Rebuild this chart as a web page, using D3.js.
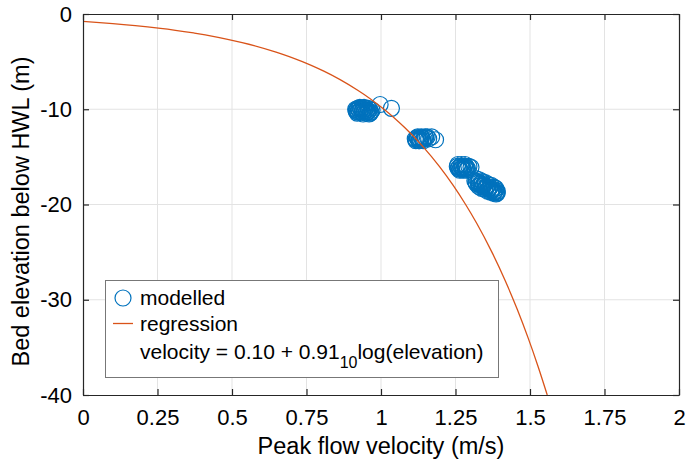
<!DOCTYPE html>
<html>
<head>
<meta charset="utf-8">
<script src="https://cdn.jsdelivr.net/npm/d3@7"></script>
<style>
  body { margin: 0; background: #fff; }
  svg { font-family: "Liberation Sans", Arial, sans-serif; }
</style>
</head>
<body>
<div id="chart"></div>
<script>
/**
 * CONSTANTS AND GLOBALS
 * */
const width = 686,
  height = 462,
  margin = { top: 14, bottom: 67, left: 83, right: 7 };

// modelled points (velocity m/s, elevation m)
const modelledVelocity = [
  // ~ -10 m
  0.915, 0.918, 0.922, 0.925, 0.928, 0.932, 0.935, 0.938, 0.942, 0.945, 0.948, 0.952, 0.955, 0.958, 0.962, 0.966, 0.97,
  0.917, 0.923, 0.929, 0.936, 0.943, 0.95, 0.957, 0.964, 0.92, 0.94, 0.96, 0.997, 1.035,
  // ~ -13 m
  1.115, 1.118, 1.121, 1.124, 1.127, 1.13, 1.133, 1.136, 1.14, 1.145, 1.15, 1.155, 1.16, 1.17, 1.183,
  1.117, 1.123, 1.129, 1.135, 1.142, 1.148,
  // ~ -16 m
  1.256, 1.259, 1.262, 1.265, 1.268, 1.271, 1.274, 1.277, 1.28, 1.283, 1.286, 1.29, 1.295, 1.302,
  1.258, 1.264, 1.27, 1.276, 1.282, 1.288,
  // ~ -17.3 to -18.9 m
  1.32, 1.33, 1.34, 1.35, 1.36, 1.37, 1.38, 1.385,
  1.315, 1.325, 1.335, 1.345, 1.355, 1.365, 1.375, 1.385, 1.39,
  1.32, 1.33, 1.34, 1.35, 1.36, 1.37, 1.38, 1.39,
  1.328, 1.338, 1.348, 1.358, 1.368, 1.378, 1.386,
  1.318, 1.327, 1.336, 1.345, 1.354, 1.363, 1.372, 1.381, 1.388
];
const modelledElevation = [
  -10.0, -10.1, -9.9, -10.0, -10.2, -10.0, -9.9, -10.1, -10.0, -10.2, -9.9, -10.1, -10.3, -10.2, -10.0, -10.3, -10.1,
  -10.2, -10.3, -9.8, -10.3, -9.8, -10.4, -9.9, -10.4, -10.4, -10.5, -10.5, -9.5, -9.9,
  -13.1, -13.2, -13.0, -13.1, -13.3, -13.1, -13.2, -13.0, -13.2, -13.1, -13.0, -12.9, -13.1, -12.9, -13.2,
  -13.3, -12.9, -13.3, -12.9, -13.3, -12.9,
  -16.0, -16.2, -16.1, -16.3, -16.0, -16.2, -16.1, -16.3, -16.0, -16.2, -16.1, -16.2, -16.0, -16.1,
  -15.8, -16.4, -15.8, -16.4, -15.8, -16.4,
  -17.3, -17.4, -17.6, -17.7, -17.9, -18.0, -18.2, -18.3,
  -17.5, -17.6, -17.8, -17.9, -18.1, -18.2, -18.4, -18.5, -18.6,
  -17.8, -17.9, -18.1, -18.2, -18.4, -18.5, -18.7, -18.8,
  -18.1, -18.3, -18.4, -18.6, -18.7, -18.8, -18.9,
  -17.65, -17.75, -17.95, -18.05, -18.25, -18.35, -18.55, -18.65, -18.75
];

// regression: velocity = a + b * log10(depth)
const regIntercept = 0.10;
const regSlope = 0.91;
const regDepths = [0.776, 1, 1.5, 2, 3, 4, 5, 6, 8, 10, 12, 14, 16, 18, 20, 22, 25, 28, 31, 34, 37, 40];

const xTicks = [0, 0.25, 0.5, 0.75, 1, 1.25, 1.5, 1.75, 2];
const xTickLabels = ["0", "0.25", "0.5", "0.75", "1", "1.25", "1.5", "1.75", "2"];
const yTicks = [0, -10, -20, -30, -40];
const yTickLabels = ["0", "-10", "-20", "-30", "-40"];

const blue = "#0072BD",
  orange = "#D95319";

/**
 * DRAW
 * */
const svg = d3.select("#chart")
  .append("svg")
  .attr("width", width)
  .attr("height", height);

const x = d3.scaleLinear().domain([0, 2]).range([margin.left, width - margin.right]);
const y = d3.scaleLinear().domain([-40, 0]).range([height - margin.bottom, margin.top]);

// grid
svg.append("g")
  .selectAll("line")
  .data(xTicks.slice(1, -1))
  .join("line")
  .attr("x1", d => x(d)).attr("x2", d => x(d))
  .attr("y1", y(0)).attr("y2", y(-40))
  .attr("stroke", "#e3e3e3").attr("stroke-width", 1);
svg.append("g")
  .selectAll("line")
  .data(yTicks.slice(1, -1))
  .join("line")
  .attr("x1", x(0)).attr("x2", x(2))
  .attr("y1", d => y(d)).attr("y2", d => y(d))
  .attr("stroke", "#e3e3e3").attr("stroke-width", 1);

// clip for data
svg.append("clipPath").attr("id", "clip")
  .append("rect")
  .attr("x", x(0)).attr("y", y(0))
  .attr("width", x(2) - x(0)).attr("height", y(-40) - y(0));

const points = modelledVelocity.map((v, i) => ({ v, e: modelledElevation[i] }));

svg.append("g")
  .selectAll("circle")
  .data(points)
  .join("circle")
  .attr("cx", d => x(d.v))
  .attr("cy", d => y(d.e))
  .attr("r", 8)
  .attr("fill", "none")
  .attr("stroke", blue)
  .attr("stroke-width", 1.2);

const regLine = d3.line()
  .curve(d3.curveMonotoneY)
  .x(d => x(regIntercept + regSlope * Math.log10(d)))
  .y(d => y(-d));

svg.append("path")
  .datum(regDepths)
  .attr("clip-path", "url(#clip)")
  .attr("d", regLine)
  .attr("fill", "none")
  .attr("stroke", orange)
  .attr("stroke-width", 1.3);

// axes (box with inward ticks)
const axisColor = "#262626";
const tickLen = 6;

const xAxisB = d3.axisBottom(x).tickValues(xTicks).tickFormat((d, i) => xTickLabels[i])
  .tickSizeInner(-tickLen).tickSizeOuter(0).tickPadding(14);
const xAxisT = d3.axisTop(x).tickValues(xTicks).tickFormat("")
  .tickSizeInner(-tickLen).tickSizeOuter(0);
const yAxisL = d3.axisLeft(y).tickValues(yTicks).tickFormat((d, i) => yTickLabels[i])
  .tickSizeInner(-tickLen).tickSizeOuter(0).tickPadding(11);
const yAxisR = d3.axisRight(y).tickValues(yTicks).tickFormat("")
  .tickSizeInner(-tickLen).tickSizeOuter(0);

function styleAxis(g) {
  g.selectAll("path").attr("stroke", axisColor).attr("stroke-width", 1.2);
  g.selectAll("line").attr("stroke", axisColor).attr("stroke-width", 1.2);
  g.selectAll("text").attr("fill", "#000").attr("font-family", null).style("font-size", "22px");
}

svg.append("g").attr("transform", `translate(0,${y(-40)})`).call(xAxisB).call(styleAxis);
svg.append("g").attr("transform", `translate(0,${y(0)})`).call(xAxisT).call(styleAxis);
svg.append("g").attr("transform", `translate(${x(0)},0)`).call(yAxisL).call(styleAxis);
svg.append("g").attr("transform", `translate(${x(2)},0)`).call(yAxisR).call(styleAxis);

// axis labels
svg.append("text")
  .attr("x", (x(0) + x(2)) / 2)
  .attr("y", 454)
  .attr("text-anchor", "middle")
  .style("font-size", "23.5px")
  .text("Peak flow velocity (m/s)");

svg.append("text")
  .attr("transform", `translate(29,${(y(0) + y(-40)) / 2 + 7}) rotate(-90)`)
  .attr("text-anchor", "middle")
  .style("font-size", "23.5px")
  .text("Bed elevation below HWL (m)");

// legend
const legend = svg.append("g");
legend.append("rect")
  .attr("x", 105.5).attr("y", 280.5)
  .attr("width", 393).attr("height", 97)
  .attr("fill", "#fff")
  .attr("stroke", "#777").attr("stroke-width", 1);

legend.append("circle")
  .attr("cx", 123).attr("cy", 298).attr("r", 8)
  .attr("fill", "none").attr("stroke", blue).attr("stroke-width", 1.2);
legend.append("text").attr("x", 140).attr("y", 305)
  .style("font-size", "21px").text("modelled");

legend.append("line")
  .attr("x1", 113).attr("x2", 133).attr("y1", 323.5).attr("y2", 323.5)
  .attr("stroke", orange).attr("stroke-width", 1.3);
legend.append("text").attr("x", 140).attr("y", 331)
  .style("font-size", "21px").text("regression");

const eq = legend.append("text").attr("x", 140).attr("y", 359).style("font-size", "21px");
eq.append("tspan").text(`velocity = ${regIntercept.toFixed(2)} + ${regSlope.toFixed(2)}`);
eq.append("tspan").attr("dy", 9).style("font-size", "16px").text("10");
eq.append("tspan").attr("dy", -9).text("log(elevation)");
</script>
</body>
</html>
